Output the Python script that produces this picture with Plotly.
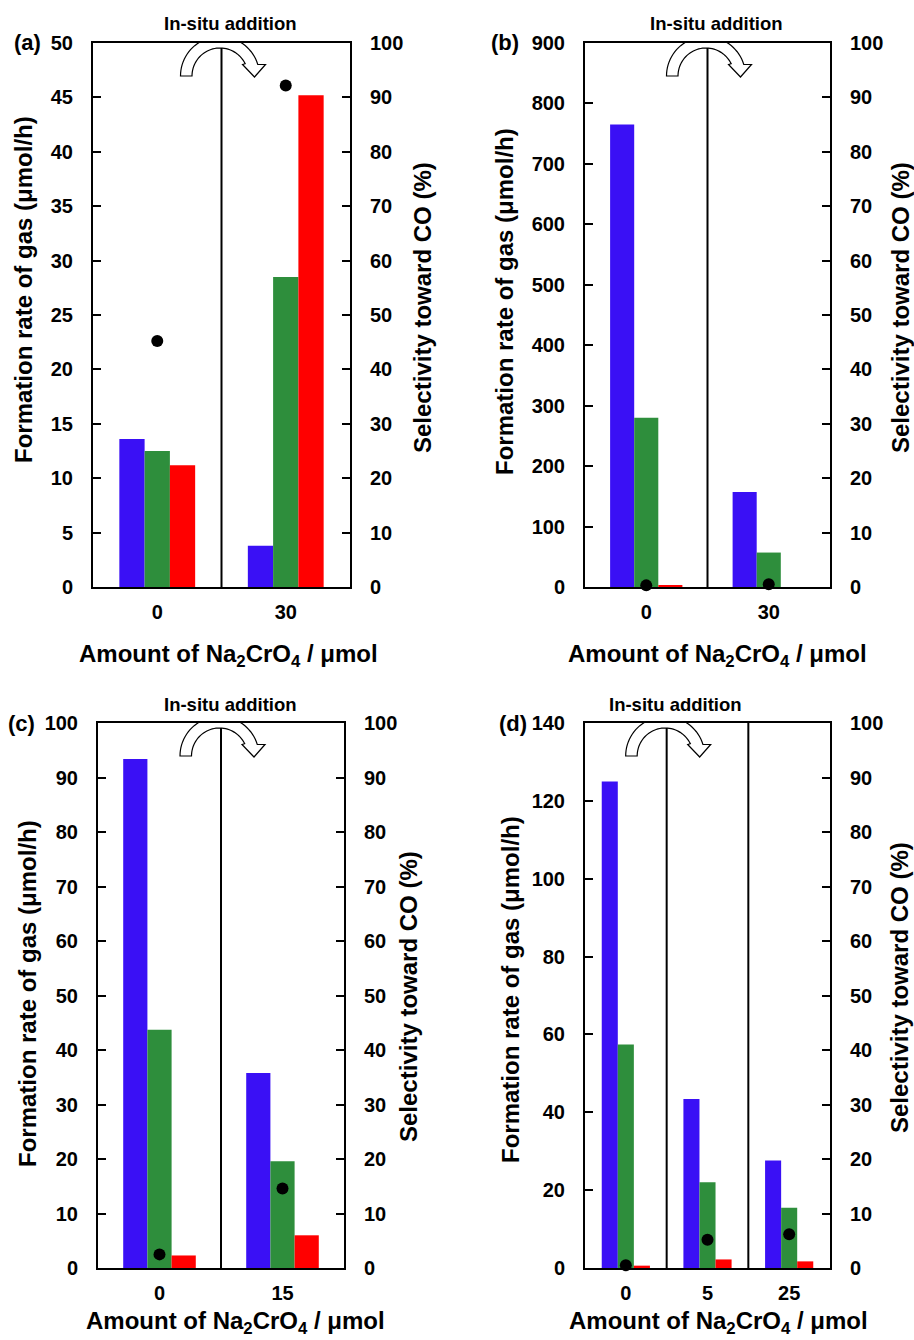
import numpy as np
import plotly.graph_objects as go

# ---------------- data ----------------
cats_a = ["0", "30"]
h2_a = [13.6, 3.8]
o2_a = [12.5, 28.5]
co_a = [11.2, 45.2]
sel_a = [45.2, 92.2]

cats_b = ["0", "30"]
h2_b = [765, 157]
o2_b = [280, 57]
co_b = [2, 0]
sel_b = [0.3, 0.5]

cats_c = ["0", "15"]
h2_c = [93.4, 35.8]
o2_c = [43.7, 19.6]
co_c = [2.3, 6.0]
sel_c = [2.5, 14.6]

cats_d = ["0", "5", "25"]
h2_d = [125.0, 43.4, 27.6]
o2_d = [57.4, 22.0, 15.5]
co_d = [0.6, 2.2, 1.7]
sel_d = [0.5, 5.2, 6.2]

left_max = [50, 900, 100, 140]
left_dtick = [5, 100, 10, 20]
panel_labels = ["(a)", "(b)", "(c)", "(d)"]

BLUE = "#3A10F5"
GREEN = "#2E8E3C"
RED = "#FF0000"
FONT = "Liberation Sans, Arial, sans-serif"

W, H = 914, 1340
def px(x):
    return x / W
def py(y):
    return 1 - y / H

panels = [
    dict(cats=cats_a, h2=h2_a, o2=o2_a, co=co_a, sel=sel_a,
         xd=[px(93), px(350)], yd=[py(587), py(43)],
         lab=(27, 43), ylt=(24, 290), yrt=(422, 308), xt=(228, 656)),
    dict(cats=cats_b, h2=h2_b, o2=o2_b, co=co_b, sel=sel_b,
         xd=[px(585), px(830)], yd=[py(587), py(43)],
         lab=(505, 43), ylt=(504, 302), yrt=(900, 308), xt=(717, 656)),
    dict(cats=cats_c, h2=h2_c, o2=o2_c, co=co_c, sel=sel_c,
         xd=[px(98), px(344)], yd=[py(1268), py(723)],
         lab=(21, 723), ylt=(27, 994), yrt=(408, 997), xt=(235, 1322)),
    dict(cats=cats_d, h2=h2_d, o2=o2_d, co=co_d, sel=sel_d,
         xd=[px(585), px(830)], yd=[py(1268), py(723)],
         lab=(513, 723), ylt=(510, 990), yrt=(900, 988), xt=(718, 1322)),
]

fig = go.Figure()
layout = dict(
    width=W, height=H, margin=dict(l=0, r=0, t=0, b=0, pad=0),
    paper_bgcolor="white", plot_bgcolor="rgba(0,0,0,0)",
    barmode="group", bargap=0.41, bargroupgap=0,
    showlegend=False, font=dict(family=FONT, color="black"),
)
shapes = []
annotations = []

# arrow outline (pixel offsets relative to divider / top of axis)
def arrow_path():
    cx, cy = -1.5, -33.0
    ro, ri = 39.5, 28.0
    th_o = np.linspace(np.pi, np.radians(17), 40)
    th_i = np.linspace(np.radians(26), np.pi, 40)
    pts = [(cx + ro * np.cos(t), cy + ro * np.sin(t)) for t in th_o]
    pts += [(44, -21.5), (33, -34), (21, -21.5)]
    pts += [(cx + ri * np.cos(t), cy + ri * np.sin(t)) for t in th_i]
    d = "M " + " L ".join(f"{x:.2f},{y:.2f}" for x, y in pts) + " Z"
    return d
APATH = arrow_path()

tickfont = dict(family=FONT, size=20, color="black", weight="bold")
for i, p in enumerate(panels):
    xa = "x" if i == 0 else f"x{i+1}"
    yl = "y" if i == 0 else f"y{2*i+1}"
    yr = f"y{2*i+2}"
    xkey = "xaxis" if i == 0 else f"xaxis{i+1}"
    ylkey = "yaxis" if i == 0 else f"yaxis{2*i+1}"
    yrkey = f"yaxis{2*i+2}"
    n = len(p["cats"])

    for vals, col in [(p["h2"], BLUE), (p["o2"], GREEN), (p["co"], RED)]:
        fig.add_trace(go.Bar(x=p["cats"], y=vals, marker=dict(color=col, line=dict(width=0)),
                             xaxis=xa, yaxis=yl))
    fig.add_trace(go.Scatter(x=p["cats"], y=p["sel"], mode="markers",
                             marker=dict(color="black", size=12), cliponaxis=False,
                             xaxis=xa, yaxis=yr))

    layout[xkey] = dict(domain=p["xd"], anchor=yl, type="category", automargin=False,
                        range=[-0.5, n - 0.5], showline=True, linecolor="black",
                        linewidth=2, mirror=True, ticks="", showgrid=False,
                        tickfont=tickfont, ticklabelstandoff=6, zeroline=False)
    layout[ylkey] = dict(domain=p["yd"], anchor=xa, range=[0, left_max[i]], automargin=False,
                         dtick=left_dtick[i], showline=True, linecolor="black",
                         linewidth=2, ticks="inside", ticklen=8, tickwidth=2,
                         tickcolor="black", showgrid=False, zeroline=False,
                         tickfont=tickfont, ticklabelstandoff=14)
    layout[yrkey] = dict(overlaying=yl, side="right", anchor=xa, range=[0, 100],
                         automargin=False,
                         dtick=10, showline=True, linecolor="black", linewidth=2,
                         ticks="inside", ticklen=8, tickwidth=2, tickcolor="black",
                         showgrid=False, zeroline=False, tickfont=tickfont,
                         ticklabelstandoff=14)

    # dividers between categories
    for k in range(n - 1):
        shapes.append(dict(type="line", xref=xa, yref=f"{yl} domain",
                           x0=k + 0.5, x1=k + 0.5, y0=0, y1=1,
                           line=dict(color="black", width=2), layer="above"))
    # curved arrow over the first divider
    shapes.append(dict(type="path", xref=xa, yref=yl, xsizemode="pixel",
                       ysizemode="pixel", xanchor=0.5, yanchor=left_max[i],
                       path=APATH, fillcolor="white",
                       line=dict(color="black", width=1.2), layer="above"))
    annotations.append(dict(text="In-situ addition", xref=xa, yref=f"{yl} domain",
                            x=0.5, y=1, xshift=9, yshift=19, showarrow=False,
                            xanchor="center", yanchor="middle",
                            font=dict(family=FONT, size=18.5, color="black", weight="bold")))
    # panel label
    annotations.append(dict(text=panel_labels[i], xref="paper", yref="paper",
                            x=px(p["lab"][0]), y=py(p["lab"][1]), showarrow=False,
                            xanchor="center", yanchor="middle",
                            font=dict(family=FONT, size=22, color="black", weight="bold")))
    # axis titles
    annotations.append(dict(text="Formation rate of gas (μmol/h)", xref="paper", yref="paper",
                            x=px(p["ylt"][0]), y=py(p["ylt"][1]), textangle=-90,
                            showarrow=False, xanchor="center", yanchor="middle",
                            font=dict(family=FONT, size=24, color="black", weight="bold")))
    annotations.append(dict(text="Selectivity toward CO (%)", xref="paper", yref="paper",
                            x=px(p["yrt"][0]), y=py(p["yrt"][1]), textangle=-90,
                            showarrow=False, xanchor="center", yanchor="middle",
                            font=dict(family=FONT, size=24, color="black", weight="bold")))
    annotations.append(dict(text="Amount of Na<sub>2</sub>CrO<sub>4</sub> / μmol",
                            xref="paper", yref="paper",
                            x=px(p["xt"][0]), y=py(p["xt"][1]),
                            showarrow=False, xanchor="center", yanchor="middle",
                            font=dict(family=FONT, size=24, color="black", weight="bold")))

layout["shapes"] = shapes
layout["annotations"] = annotations
fig.update_layout(**layout)
fig.write_html("out.html")
